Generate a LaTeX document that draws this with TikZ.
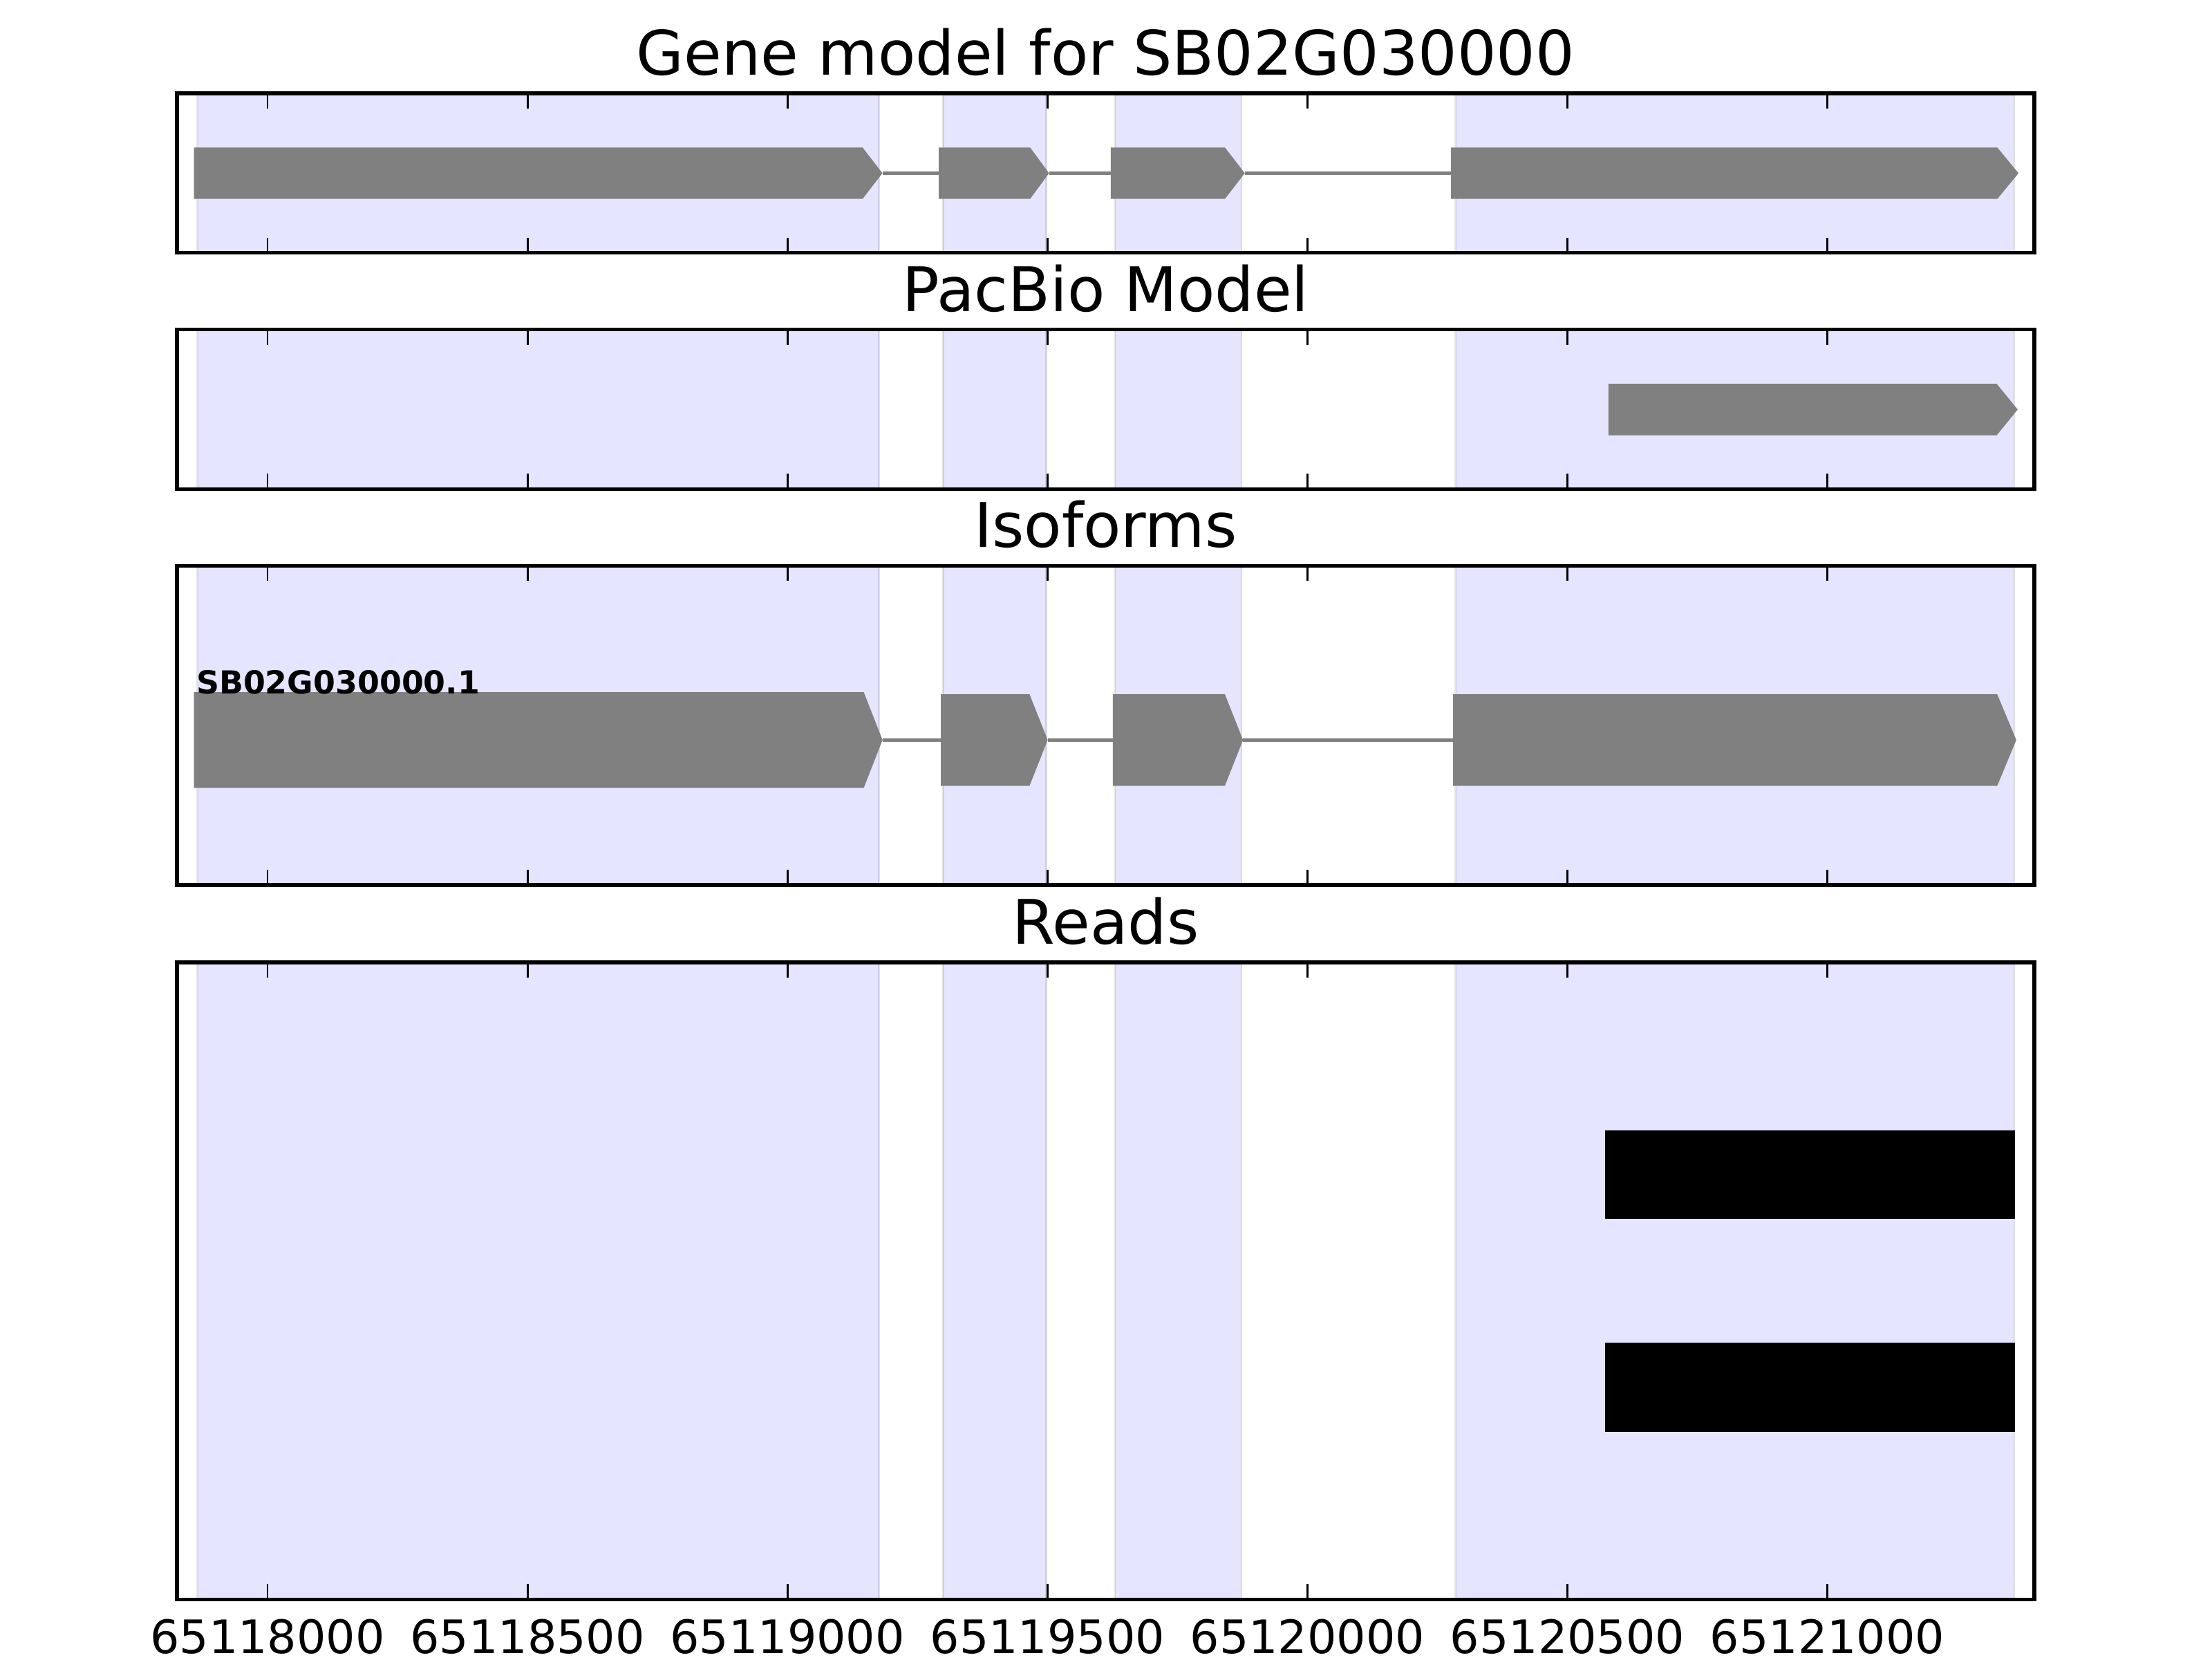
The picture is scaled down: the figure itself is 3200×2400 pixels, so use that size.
\documentclass[tikz,border=0pt]{standalone}
\usepackage{fontspec}
\setmainfont{DejaVu Sans}
\definecolor{spanblue}{RGB}{229,229,255}
\begin{document}
\begin{tikzpicture}[x=0.18pt, y=-0.18pt,
    exonspan/.style={fill=spanblue, draw=black, draw opacity=0.1, line width=0.5pt},
    axisframe/.style={draw=black, line width=1pt},
    tickmark/.style={black, line width=0.5pt},
    exon/.style={fill=gray},
    intron/.style={gray, line width=1pt},
    readbar/.style={fill=black},
    paneltitle/.style={font=\fontsize{16}{19}\selectfont, anchor=base, inner sep=0pt},
    ticklabel/.style={font=\fontsize{12}{14}\selectfont, anchor=base, inner sep=0pt},
    isolabel/.style={font=\bfseries\fontsize{8.25}{10}\selectfont, anchor=base west, inner sep=0pt}]
    \useasboundingbox (0, 0) rectangle (3200, 2400);

    % four panels: shaded exon spans, ticks, frame
    \foreach \pt/\pb in {135/365.7, 476.7/707.3, 818.3/1280, 1392/2313.3} {
        \foreach \sa/\sb in {285.5/1271.5, 1364.3/1513.8, 1613/1796, 2105.7/2914}
            \filldraw[exonspan] (\sa, \pt) rectangle (\sb, \pb);
        \foreach \k in {0, ..., 6} {
            \draw[tickmark] ({387 + 376.1*\k}, \pt) -- ++(0, 22);
            \draw[tickmark] ({387 + 376.1*\k}, \pb) -- ++(0, -22);
        }
        \draw[axisframe] (256, \pt) rectangle (2943, \pb);
    }

    % titles
    \node[paneltitle] (genetitle) at (1599.5, 108) {Gene model for SB02G030000};
    \node[paneltitle] (pacbiotitle) at (1599.5, 450) {PacBio Model};
    \node[paneltitle] (isotitle) at (1599.5, 791) {Isoforms};
    \node[paneltitle] (readstitle) at (1599.5, 1365) {Reads};

    % gene model
    \draw[intron] (1276.5, 250.5) -- (1358.2, 250.5);
    \draw[intron] (1517.6, 250.5) -- (1606.9, 250.5);
    \draw[intron] (1800.8, 250.5) -- (2099.2, 250.5);
    \fill[exon] (280.5, 213.3) -- (1247.8, 213.3) -- (1276.5, 250.5) -- (1247.8, 287.7) -- (280.5, 287.7) -- cycle;
    \fill[exon] (1358.2, 213.3) -- (1490.2, 213.3) -- (1517.6, 250.5) -- (1490.2, 287.7) -- (1358.2, 287.7) -- cycle;
    \fill[exon] (1606.9, 213.3) -- (1772, 213.3) -- (1800.8, 250.5) -- (1772, 287.7) -- (1606.9, 287.7) -- cycle;
    \fill[exon] (2099.2, 213.3) -- (2889.4, 213.3) -- (2920, 250.5) -- (2889.4, 287.7) -- (2099.2, 287.7) -- cycle;

    % pacbio model
    \fill[exon] (2326.8, 555) -- (2888.4, 555) -- (2918.8, 592.3) -- (2888.4, 629.7) -- (2326.8, 629.7) -- cycle;

    % isoforms
    \draw[intron] (1276.7, 1070.3) -- (1361.2, 1070.3);
    \draw[intron] (1515.6, 1070.3) -- (1609.8, 1070.3);
    \draw[intron] (1798.2, 1070.3) -- (2102.2, 1070.3);
    \fill[exon] (280.5, 1001) -- (1249.5, 1001) -- (1276.7, 1070.3) -- (1249.5, 1139.7) -- (280.5, 1139.7) -- cycle;
    \fill[exon] (1361.2, 1004) -- (1489.3, 1004) -- (1515.6, 1070.3) -- (1489.3, 1136.7) -- (1361.2, 1136.7) -- cycle;
    \fill[exon] (1609.8, 1004) -- (1771.9, 1004) -- (1798.2, 1070.3) -- (1771.9, 1136.7) -- (1609.8, 1136.7) -- cycle;
    \fill[exon] (2102.2, 1004) -- (2889.2, 1004) -- (2916.8, 1070.3) -- (2889.2, 1136.7) -- (2102.2, 1136.7) -- cycle;
    \node[isolabel] (isoname) at (283, 1003) {SB02G030000.1};

    % reads
    \fill[readbar] (2322.1, 1635) rectangle (2915.3, 1762.7);
    \fill[readbar] (2322.1, 1942) rectangle (2915.3, 2070.7);

    % x axis labels
    \foreach \lab [count=\k from 0] in {65118000, 65118500, 65119000, 65119500, 65120000, 65120500, 65121000}
        \node[ticklabel] (tick\k) at ({387 + 376.1*\k}, 2391) {\lab};
\end{tikzpicture}
\end{document}
